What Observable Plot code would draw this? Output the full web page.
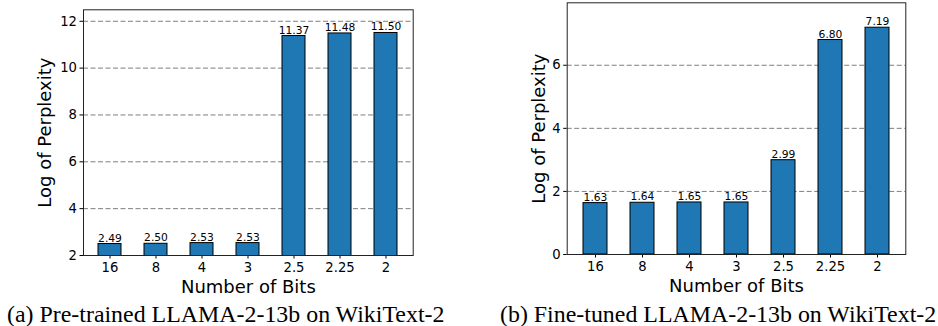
<!DOCTYPE html>
<html>
<head>
<meta charset="utf-8">
<script src="https://cdn.jsdelivr.net/npm/d3@7"></script>
<script src="https://cdn.jsdelivr.net/npm/@observablehq/plot@0.6"></script>
<style>
  body { margin: 0; background: #fff; }
  #wrap { position: relative; width: 938px; height: 326px; overflow: hidden; background: #fff; }
  .panel { position: absolute; top: 0; }
  .caption { position: absolute; font-family: "Liberation Serif", "Times New Roman", serif; font-size: 23.9px; color: #000; white-space: nowrap; line-height: 1; }
</style>
</head>
<body>
<div id="wrap">
  <div id="pa" class="panel" style="left:0px"></div>
  <div id="pb" class="panel" style="left:470px"></div>
  <div class="caption" id="capA"></div>
  <div class="caption" id="capB"></div>
</div>
<script>
const bits = ["16", "8", "4", "3", "2.5", "2.25", "2"];
const pretrained = [2.49, 2.50, 2.53, 2.53, 11.37, 11.48, 11.50];
const finetuned = [1.63, 1.64, 1.65, 1.65, 2.99, 6.80, 7.19];
const ticksA = [2, 4, 6, 8, 10, 12];
const ticksB = [0, 2, 4, 6];
const captionA = "(a) Pre-trained LLAMA-2-13b on WikiText-2";
const captionB = "(b) Fine-tuned LLAMA-2-13b on WikiText-2";
const xLabel = "Number of Bits";
const yLabel = "Log of Perplexity";

function chart(values, yDomain, yTicks, m) {
  const data = bits.map((b, i) => ({bits: b, value: values[i]}));
  return Plot.plot({
    width: m.width,
    height: 300,
    marginLeft: m.left,
    marginRight: m.right,
    marginTop: m.top,
    marginBottom: m.bottom,
    style: {fontFamily: "DejaVu Sans", fontSize: "13.2px", color: "#000", background: "#fff"},
    x: {type: "band", domain: bits, paddingInner: 0.5, paddingOuter: 0.325, align: 0.5},
    y: {domain: yDomain},
    marks: [
      Plot.gridY(yTicks, {stroke: "#7f7f7f", strokeOpacity: 1, strokeDasharray: "5,2.5", strokeWidth: 1}),
      Plot.barY(data, {x: "bits", y1: 0, y2: "value", fill: "#1f77b4", stroke: "#000", strokeWidth: 1, clip: true}),
      Plot.text(data, {x: "bits", y: "value", text: d => d.value.toFixed(2), lineAnchor: "bottom", dy: -2.5, fontSize: 10.7, fill: "#000"}),
      Plot.axisY({ticks: yTicks, tickSize: 3.5, tickPadding: 3, label: null, fontSize: 13.2}),
      Plot.axisX({tickSize: 3.5, tickPadding: 4, label: null, fontSize: 13.2}),
      Plot.text([yLabel], {frameAnchor: "left", textAnchor: "middle", lineAnchor: "middle", rotate: -90, dx: -m.ylab, fontSize: 18, fill: "#000"}),
      Plot.text([xLabel], {frameAnchor: "bottom", textAnchor: "middle", lineAnchor: "bottom", dy: 37.7, fontSize: 18, fill: "#000"}),
      Plot.frame({stroke: "#222", strokeWidth: 1})
    ]
  });
}

document.getElementById("pa").append(chart(pretrained, [2, 12.49], ticksA, {width: 470, left: 83, right: 57.3, top: 9.3, bottom: 45, ylab: 38}));
document.getElementById("pb").append(chart(finetuned, [0, 7.98], ticksB, {width: 468, left: 96.7, right: 32.7, top: 2.3, bottom: 46, ylab: 28}));

const ca = document.getElementById("capA");
ca.textContent = captionA;
ca.style.left = "7px"; ca.style.top = "302.5px";
const cb = document.getElementById("capB");
cb.textContent = captionB;
cb.style.left = "500px"; cb.style.top = "302.5px";
</script>
</body>
</html>
